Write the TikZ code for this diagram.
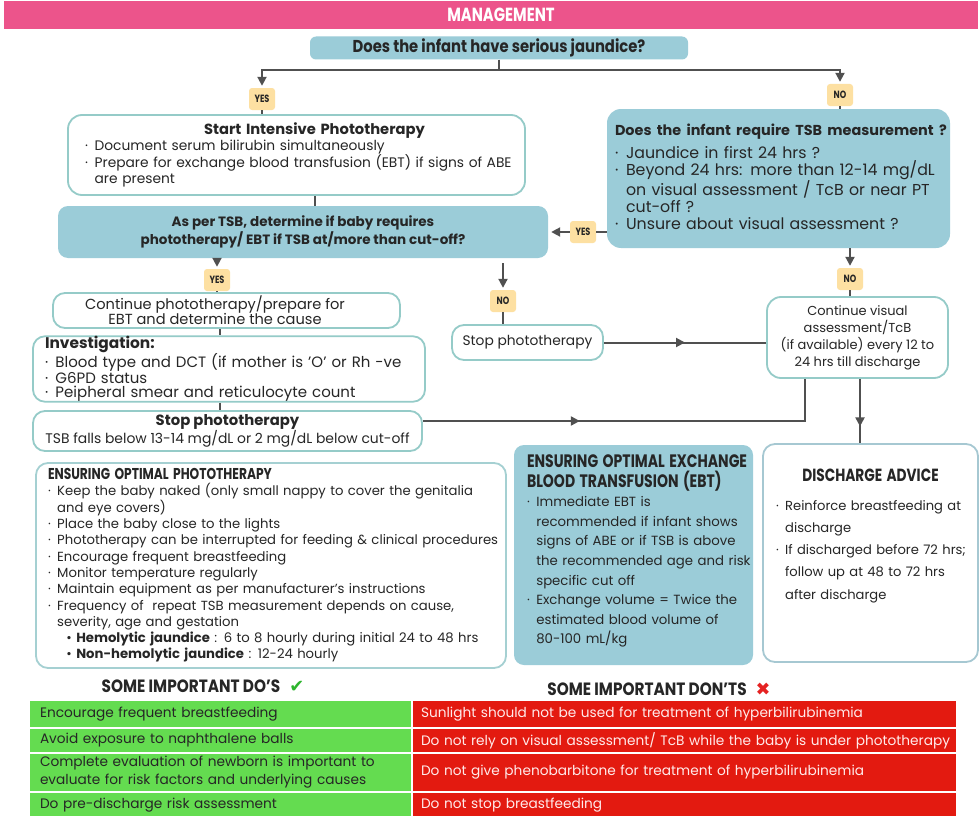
\documentclass[tikz,border=0pt]{standalone}
\usepackage{fontspec}
\setmainfont{Poppins}
\newfontfamily\condfont{Poppins}[FakeStretch=0.78]
\newfontfamily\semicond{Poppins}[FakeStretch=0.86]
\newfontfamily\symfont{DejaVu Sans}
\usetikzlibrary{arrows.meta,positioning,decorations.markings}
\definecolor{pinkband}{HTML}{EC548B}
\definecolor{qblue}{HTML}{9BCCD8}
\definecolor{tealline}{HTML}{95CBC8}
\definecolor{optline}{HTML}{A5D0D2}
\definecolor{disline}{HTML}{A6C8D2}
\definecolor{tagfill}{HTML}{FDE0A2}
\definecolor{arrowgray}{HTML}{505050}
\definecolor{dogreen}{HTML}{64DC50}
\definecolor{dontred}{HTML}{E31A10}
\definecolor{checkgreen}{HTML}{2DB52D}
\definecolor{crossred}{HTML}{E52222}
\setlength{\parindent}{0pt}
\newcommand{\fsz}[2]{\fontsize{#1}{#2}\selectfont}
\newcommand{\bul}[1]{\mbox{\makebox[0.7em][l]{·}#1}}
\newcommand{\cont}[1]{\mbox{\hspace*{0.7em}#1}}
\tikzset{
  qfill/.style={fill=qblue,rounded corners=10pt,inner sep=0pt},
  wbox/.style={draw=tealline,line width=1.8pt,fill=white,rounded corners=12pt,inner sep=0pt},
  tag/.style={fill=tagfill,rounded corners=3pt,inner sep=0pt,minimum width=26pt,minimum height=22pt,font=\condfont\bfseries\fsz{10.5}{11}},
  link/.style={line width=2pt,draw=arrowgray},
  flow/.style={link,-{Triangle[length=9pt,width=9pt]}},
  midarrow/.style={postaction={decorate,decoration={markings,mark=at position #1 with {\arrow{Triangle[length=9pt,width=9pt]}}}}},
  midarrow/.default=0.5,
  docell/.style={fill=dogreen,inner xsep=10pt,inner ysep=0pt,minimum width=381,text width=361,align=left,font=\fsz{13.7}{18}},
  dontcell/.style={fill=dontred,inner xsep=8pt,inner ysep=0pt,minimum width=543,text width=527,align=left,text=white!92!red,font=\fsz{13.7}{18}},
  headtxt/.style={font=\semicond\bfseries\fsz{17.8}{18}}
}
\begin{document}
\begin{tikzpicture}[x=1pt,y=-1pt,font=\fsz{13.8}{16},text=black!85]
  \useasboundingbox[fill=white] (0,0) rectangle (980,816);
  % header and first question
  \node[fill=pinkband,minimum width=974,minimum height=28,inner sep=0pt,text=white,font=\condfont\bfseries\fsz{19}{20}] (hdr) at (491,15) {\hspace*{20pt}MANAGEMENT};
  \node[qfill,rounded corners=6pt,minimum width=378,minimum height=23,font=\semicond\bfseries\fsz{17.2}{17}] (q1) at (499,48) {Does the infant have serious jaundice?};
  \node[tag] (yes1) at (262,99) {YES};
  \node[tag] (no1) at (840,95) {NO};
  \draw[link] (q1.south) -- ++(0,10) coordinate (fork);
  \draw[flow,shorten >=2pt] (fork) -| (yes1.north);
  \draw[flow,shorten >=2pt] (fork) -| (no1.north);

  % yes branch
  \node[wbox,rounded corners=14pt,minimum width=457,minimum height=80,text width=423,align=left] (start) at (296.5,155)
    {\centerline{\hspace{36pt}\bfseries\fsz{14.7}{16}Start Intensive Phototherapy}\par
     \bul{Document serum bilirubin simultaneously}\\
     \bul{Prepare for exchange blood transfusion (EBT) if signs of ABE}\\
     \cont{are present}};
  \node[qfill,minimum width=490,minimum height=52,align=center,font=\bfseries\fsz{13.5}{18}] (tsb) at (303,232)
    {As per TSB, determine if baby requires\\ phototherapy/ EBT if TSB at/more than cut-off?};
  \draw[link] (yes1.south) -- (yes1.south |- start.north);
  \draw[link] ([xshift=18pt]start.south) -- ([xshift=18pt]start.south |- tsb.north);

  % no branch
  \node[qfill,rounded corners=14pt,minimum width=343,minimum height=139,text width=327,align=left,font=\fsz{15.8}{17}] (rq) at (778.5,178.5)
    {{\bfseries\fsz{14.4}{17}\mbox{Does the infant require TSB measurement ?}}\\[6pt]
     \bul{Jaundice in first 24 hrs ?}\\
     \bul{Beyond 24 hrs: more than 12-14 mg/dL}\\
     \cont{on visual assessment / TcB or near PT}\\
     \cont{cut-off ?}\\
     \bul{Unsure about visual assessment ?}\par\vspace*{4pt}};
  \draw[link] (no1.south) -- (no1.south |- rq.north);
  \node[tag] (yes2) at (583,232) {YES};
  \draw[link] (rq.west |- yes2) -- (yes2.east);
  \draw[flow,shorten >=3pt] (yes2.west) -- (yes2 -| tsb.east);
  \node[tag] (no2) at (850,279) {NO};
  \draw[flow,shorten >=2pt] (no2 |- rq.south) -- (no2.north);
  \node[wbox,rounded corners=14pt,minimum width=181,minimum height=81,align=center,font=\fsz{13}{17}] (cv) at (857.5,337.5)
    {Continue visual\\ assessment/TcB\\ (if available) every 12 to\\ 24 hrs till discharge};
  \draw[link] (no2.south) -- (no2 |- cv.north);

  % after TSB
  \node[tag] (yes3) at (217,280) {YES};
  \draw[flow,shorten >=2pt] (yes3 |- tsb.south) -- (yes3.north);
  \node[wbox,minimum width=347,minimum height=35,align=center,font=\fsz{14.6}{15}] (cont) at (226.5,310.5)
    {\hspace*{-23pt}Continue phototherapy/prepare for\\ \hspace*{-23pt}EBT and determine the cause};
  \draw[link] (yes3.south) -- (yes3 |- cont.north);
  \node[tag] (no3) at (503,301) {NO};
  \draw[flow,shorten <=5pt,shorten >=2pt] (no3 |- tsb.south) -- (no3.north);
  \node[wbox,minimum width=151,minimum height=35,font=\fsz{13.8}{16}] (stop) at (527.5,342.5) {Stop phototherapy};
  \draw[link] (no3.south) -- (no3 |- stop.north);
  \draw[link,midarrow] (stop.east) -- (stop.east -| cv.west);

  \node[wbox,minimum width=392,minimum height=58,text width=368,align=left,font=\fsz{15}{14}] (inv) at (229,369)
    {{\bfseries\fsz{15.4}{14}Investigation:}\\
     \bul{Blood type and DCT (if mother is 'O' or Rh -ve}\\
     \bul{G6PD status}\\
     \bul{Peipheral smear and reticulocyte count}};
  \draw[link] ([xshift=-6.5pt]cont.south) -- ([xshift=-6.5pt]cont.south |- inv.north);
  \node[wbox,minimum width=389,minimum height=40,align=center,font=\fsz{13.9}{17}] (stopb) at (227.5,431)
    {{\bfseries\fsz{14.8}{17}Stop phototherapy}\\ TSB falls below 13-14 mg/dL or 2 mg/dL below cut-off};
  \draw[link] ([xshift=-9pt]inv.south) -- ([xshift=-9pt]inv.south |- stopb.north);
  \draw[link,midarrow=0.37] ([yshift=10pt]stopb.east) -| ([xshift=-52.5pt]cv.south);

  % advice boxes
  \node[wbox,draw=optline,minimum width=470,minimum height=205,text width=446,align=left,font=\fsz{13.2}{16.3}] (opt) at (271,565.5)
    {{\condfont\bfseries\fsz{15.7}{18}ENSURING OPTIMAL PHOTOTHERAPY}\\
     \bul{Keep the baby naked (only small nappy to cover the genitalia}\\
     \cont{and eye covers)}\\
     \bul{Place the baby close to the lights}\\
     \bul{Phototherapy can be interrupted for feeding \& clinical procedures}\\
     \bul{Encourage frequent breastfeeding}\\
     \bul{Monitor temperature regularly}\\
     \bul{Maintain equipment as per manufacturer’s instructions}\\
     \bul{Frequency of\ \ repeat TSB measurement depends on cause,}\\
     \cont{severity, age and gestation}\\
     \hspace*{1.4em}\mbox{• \textbf{Hemolytic jaundice} : 6 to 8 hourly during initial 24 to 48 hrs}\\
     \hspace*{1.4em}\mbox{• \textbf{Non-hemolytic jaundice} : 12-24 hourly}};
  \node[qfill,minimum width=239,minimum height=220,text width=213,align=left,font=\fsz{13.3}{19.6}] (ebt) at (633.5,555)
    {{\condfont\bfseries\fsz{18}{18}\mbox{ENSURING OPTIMAL EXCHANGE}\\ BLOOD TRANSFUSION (EBT)}\\
     \bul{Immediate EBT is}\\
     \cont{recommended if infant shows}\\
     \cont{signs of ABE or if TSB is above}\\
     \cont{the recommended age and risk}\\
     \cont{specific cut off}\\
     \bul{Exchange volume = Twice the}\\
     \cont{estimated blood volume of}\\
     \cont{80-100 mL/kg}\par\vspace*{8pt}};
  \node[wbox,draw=disline,minimum width=215,minimum height=218,text width=189,align=left,font=\fsz{13.1}{22.3}] (dis) at (870.5,553)
    {\centerline{\condfont\bfseries\fsz{17.6}{18}DISCHARGE ADVICE}\par
     \vspace*{6pt}
     \bul{Reinforce breastfeeding at}\\
     \cont{discharge}\\
     \bul{If discharged before 72 hrs;}\\
     \cont{follow up at 48 to 72 hrs}\\
     \cont{after discharge}\par\vspace*{34pt}};
  \draw[link,midarrow=0.74] ([xshift=2.5pt]cv.south) -- ([xshift=2.5pt]cv.south |- dis.north);

  % do's and don'ts
  \node[headtxt] (doh) at (203,686) {SOME IMPORTANT DO’S\hspace{9pt}{\symfont\color{checkgreen}✔}};
  \node[headtxt] (donth) at (659,689) {SOME IMPORTANT DON’TS\hspace{9pt}{\symfont\color{crossred}✖}};
  \node[docell,minimum height=26] (do1) at (220.5,714) {Encourage frequent breastfeeding};
  \node[docell,minimum height=23] (do2) at (220.5,740.5) {Avoid exposure to naphthalene balls};
  \node[docell,minimum height=37] (do3) at (220.5,772.5) {Complete evaluation of newborn is important to\\ evaluate for risk factors and underlying causes};
  \node[docell,minimum height=24] (do4) at (220.5,805) {Do pre-discharge risk assessment};
  \node[dontcell,minimum height=26] (dont1) at (684.5,714) {Sunlight should not be used for treatment of hyperbilirubinemia};
  \node[dontcell,minimum height=23] (dont2) at (684.5,740.5) {\mbox{Do not rely on visual assessment/ TcB while the baby is under phototherapy}};
  \node[dontcell,minimum height=37] (dont3) at (684.5,772.5) {Do not give phenobarbitone for treatment of hyperbilirubinemia};
  \node[dontcell,minimum height=24] (dont4) at (684.5,805) {Do not stop breastfeeding};
\end{tikzpicture}
\end{document}
